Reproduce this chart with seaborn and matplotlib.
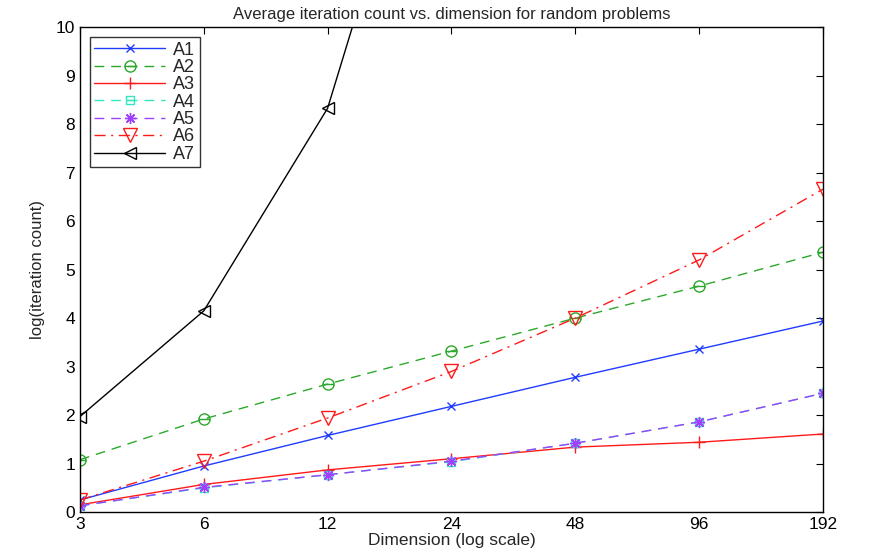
import numpy as np
import pandas as pd
import matplotlib
matplotlib.use("Agg")
import matplotlib.pyplot as plt
from matplotlib.path import Path
import seaborn as sns

dims = [3, 6, 12, 24, 48, 96, 192]
a1 = [0.25, 0.95, 1.58, 2.18, 2.78, 3.36, 3.94]
a2 = [1.08, 1.92, 2.64, 3.32, 4.00, 4.66, 5.36]
a3 = [0.15, 0.57, 0.87, 1.10, 1.34, 1.44, 1.61]
a4 = [0.13, 0.50, 0.77, 1.04, 1.42, 1.86, 2.45]
a5 = [0.13, 0.51, 0.77, 1.05, 1.42, 1.86, 2.45]
a6 = [0.25, 1.05, 1.94, 2.90, 4.00, 5.20, 6.66]
a7_dims = [3, 6, 12, 24]
a7 = [1.97, 4.15, 8.33, 16.7]
names = ["A1", "A2", "A3", "A4", "A5", "A6", "A7"]
tick_labels = ["3", "6", "12", "24", "48", "96", "192"]

rows = []
for nm, vals, xs in zip(names, [a1, a2, a3, a4, a5, a6, a7],
                        [dims] * 6 + [a7_dims]):
    for x, v in zip(xs, vals):
        rows.append({"series": nm, "dim": x, "val": v})
df = pd.DataFrame(rows)

sns.set_style("white")
plt.rcParams['font.family'] = ['Liberation Sans', 'DejaVu Sans']

# custom markers: circle with horizontal bar, square with horizontal bar
circ = Path.unit_circle()
bar = Path([(-1, 0), (1, 0)], [Path.MOVETO, Path.LINETO])
theta_marker = Path.make_compound_path(circ, bar)
sq = Path([(-1, -1), (1, -1), (1, 1), (-1, 1), (-1, -1)],
          [Path.MOVETO, Path.LINETO, Path.LINETO, Path.LINETO, Path.CLOSEPOLY])
sqbar_marker = Path.make_compound_path(sq, bar)

styles = {
    "A1": dict(color="#1f3cff", ls="-", marker="x", ms=6),
    "A2": dict(color="#2ca82c", ls=(0, (7, 5)), marker=theta_marker, ms=8),
    "A3": dict(color="#ff1a1a", ls="-", marker="+", ms=9),
    "A4": dict(color="#33e6c0", ls=(0, (7, 5)), marker=sqbar_marker, ms=6),
    "A5": dict(color="#a040ff", ls=(0, (7, 5)), marker=(8, 2, 0), ms=8),
    "A6": dict(color="#ff1a1a", ls=(0, (8, 4, 1.5, 4)), marker="v", ms=10),
    "A7": dict(color="#000000", ls="-", marker="<", ms=9),
}

fig = plt.figure(figsize=(8.72, 5.56), dpi=100)
ax = fig.add_axes([0.0917, 0.079, 0.852, 0.872])

for nm in names:
    st = styles[nm]
    sub = df[df["series"] == nm]
    sns.lineplot(data=sub, x="dim", y="val", ax=ax, color=st["color"],
                 linestyle=st["ls"], marker=st["marker"], markersize=st["ms"],
                 markerfacecolor="none", markeredgecolor=st["color"],
                 markeredgewidth=1.0, linewidth=1.0, label=nm)

ax.set_xscale("log")
ax.set_xlim(3, 192)
ax.set_ylim(0, 10)
ax.set_xticks(dims)
ax.set_xticklabels(tick_labels)
ax.minorticks_off()
ax.set_yticks(range(0, 11))
ax.tick_params(direction="in", top=True, right=True, length=5,
               labelsize=12.5, width=0.8, colors="black")
for s in ax.spines.values():
    s.set_visible(True)
    s.set_color("black")
    s.set_linewidth(1.0)

ax.set_title("Average iteration count vs. dimension for random problems",
             fontsize=12, pad=6)
ax.set_xlabel("Dimension (log scale)", fontsize=12.5, labelpad=1)
ax.set_ylabel("log(iteration count)", fontsize=12, labelpad=8)

leg = ax.legend(loc="upper left", frameon=True, fancybox=False,
                edgecolor="black", fontsize=13, handlelength=3.9,
                borderpad=0.25, labelspacing=0.02, handletextpad=0.45,
                borderaxespad=0.55)
leg.get_frame().set_linewidth(1.0)

fig.savefig("out.png", dpi=100)
